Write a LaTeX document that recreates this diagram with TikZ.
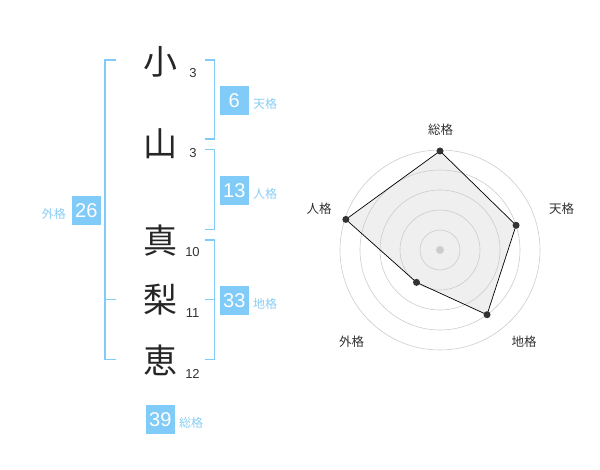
\documentclass[tikz,border=0pt]{standalone}
\usepackage{fontspec}
\usetikzlibrary{calc}
\setmainfont{Liberation Sans}
\newfontfamily\cjk{Noto Sans CJK JP}
\definecolor{skyb}{HTML}{80CBF8}
\definecolor{skylab}{HTML}{88CEF5}
\definecolor{darkt}{HTML}{333333}
\definecolor{kanjic}{HTML}{262626}
\definecolor{ringc}{HTML}{CCCCCC}
\definecolor{polyf}{HTML}{EFEFEF}
\tikzset{
  kanji/.style={font=\cjk\fontsize{34}{34}\selectfont, text=kanjic, inner sep=0pt},
  strokenum/.style={font=\fontsize{13}{13}\selectfont, text=darkt, inner sep=0pt},
  valbox/.style={fill=skyb, text=white, minimum size=29pt, inner sep=0pt, font=\fontsize{20}{20}\selectfont},
  kakulab/.style={font=\cjk\fontsize{12}{12}\selectfont, text=skylab, inner sep=0pt},
  brk/.style={draw=skyb, line width=1.8pt},
  ring/.style={draw=ringc, line width=0.6pt},
  radarlab/.style={font=\cjk\fontsize{12.5}{12.5}\selectfont, text=darkt, inner sep=0pt},
  dotp/.style={circle, fill=darkt, minimum size=7pt, inner sep=0pt},
}
\begin{document}
\begin{tikzpicture}[x=1pt,y=-1pt]
\useasboundingbox (0,0) rectangle (600,470);
% characters
\node[kanji] (c1) at (160,62) {小};
\node[kanji] (c2) at (160,144) {山};
\node[kanji] (c3) at (160,241) {真};
\node[kanji] (c4) at (160,300) {梨};
\node[kanji] (c5) at (160,360) {恵};
\node[strokenum] (n1) at (193,73) {3};
\node[strokenum] (n2) at (193,153) {3};
\node[strokenum] (n3) at (192.5,252.5) {10};
\node[strokenum] (n4) at (192.5,313) {11};
\node[strokenum] (n5) at (192.5,373.5) {12};
% brackets
\draw[brk] (116,60) -- (105,60) -- (105,359.5) -- (116,359.5);
\draw[brk] (105,299.5) -- (116,299.5);
\draw[brk] (205,60) -- (214.5,60) -- (214.5,139) -- (205,139);
\draw[brk] (205,149.5) -- (214.5,149.5) -- (214.5,229.5) -- (205,229.5);
\draw[brk] (205,240) -- (214.5,240) -- (214.5,359.5) -- (205,359.5);
\draw[brk] (205,299.5) -- (214.5,299.5);
% value boxes
\node[valbox] (v1) at (234.3,100.3) {6};
\node[kakulab, anchor=west] (l1) at (253,104) {天格};
\node[valbox] (v2) at (234.3,190.3) {13};
\node[kakulab, anchor=west] (l2) at (253,194) {人格};
\node[valbox] (v3) at (234.3,300.3) {33};
\node[kakulab, anchor=west] (l3) at (253,304) {地格};
\node[valbox] (v4) at (86.3,210.3) {26};
\node[kakulab, anchor=east] (l4) at (66,213.5) {外格};
\node[valbox] (v5) at (160.3,419.3) {39};
\node[kakulab, anchor=west] (l5) at (179,423.3) {総格};
% radar
\coordinate (rc) at (440,250);
\coordinate (p1) at ($(rc)+(0,-99)$);
\path (rc) ++(-18:80) coordinate (p2);
\path (rc) ++(54:80) coordinate (p3);
\path (rc) ++(126:40) coordinate (p4);
\path (rc) ++(198:99) coordinate (p5);
\fill[polyf] (p1) -- (p2) -- (p3) -- (p4) -- (p5) -- cycle;
\foreach \r in {20,40,60,80,100} \draw[ring] (rc) circle (\r);
\draw[draw=black, line width=0.7pt] (p1) -- (p2) -- (p3) -- (p4) -- (p5) -- cycle;
\foreach \p in {p1,p2,p3,p4,p5} \node[dotp] at (\p) {};
\node[circle, fill=ringc, minimum size=8pt, inner sep=0pt] (cd) at (rc) {};
\node[radarlab] (r1) at (440.7,130) {総格};
\node[radarlab] (r2) at (561.7,208.3) {天格};
\node[radarlab] (r3) at (524,341.7) {地格};
\node[radarlab] (r4) at (351.7,341.7) {外格};
\node[radarlab] (r5) at (319,208.3) {人格};
\end{tikzpicture}
\end{document}
